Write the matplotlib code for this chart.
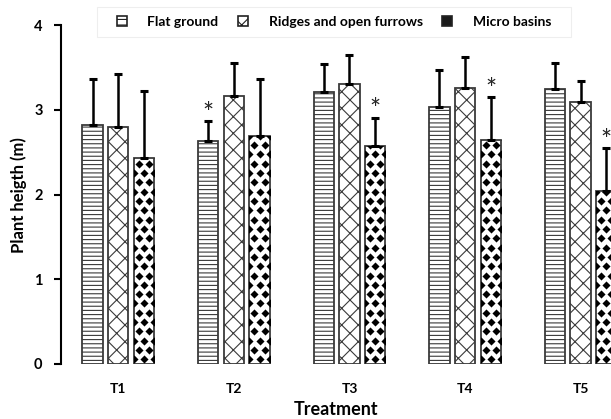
import numpy as np
import matplotlib.pyplot as plt
from matplotlib.patches import Patch, Rectangle

plt.rcParams['font.family'] = ['Lato', 'DejaVu Sans']
plt.rcParams['font.weight'] = 'bold'
plt.rcParams['hatch.linewidth'] = 0.8

treatments = ['T1', 'T2', 'T3', 'T4', 'T5']
series = ['Flat ground', 'Ridges and open furrows', 'Micro basins']
flat = [2.82, 2.63, 3.21, 3.03, 3.25]
ridges = [2.80, 3.16, 3.31, 3.26, 3.09]
micro = [2.43, 2.69, 2.58, 2.64, 2.04]
flat_sd = [0.54, 0.24, 0.33, 0.44, 0.31]
ridges_sd = [0.63, 0.39, 0.34, 0.36, 0.25]
micro_sd = [0.79, 0.68, 0.33, 0.51, 0.51]
# which series carries a significance star in each treatment (None = no star)
star = [None, 0, 2, 2, 2]

fig = plt.figure(figsize=(6.11, 4.19), dpi=100)
ax = fig.add_axes([0.0993, 0.1313, 0.9007, 0.8083])

x = np.arange(len(treatments))
offset = 0.222
width = 0.177
edge = '#3a3a3a'

values = [flat, ridges, micro]
sds = [flat_sd, ridges_sd, micro_sd]
hatches = ['----', 'xx', None]
groups = []
for k in range(3):
    bars = ax.bar(x + (k - 1) * offset, values[k], width, color='white',
                  edgecolor=edge, linewidth=1.3, hatch=hatches[k], zorder=2)
    groups.append(bars)
    ax.errorbar(x + (k - 1) * offset, values[k],
                yerr=[np.zeros(len(x)), sds[k]], fmt='none', ecolor='black',
                elinewidth=1.8, capsize=2.6, capthick=2.2, zorder=3)

# black diamond pattern for the micro basin bars, clipped to each bar
for bar in groups[2]:
    bx, bw, bh = bar.get_x(), bar.get_width(), bar.get_height()
    dx = bw / 2
    dy = 0.11
    pts = []
    for r, yy in enumerate(np.arange(dy / 2, bh + dy, dy)):
        if r % 2 == 1:
            xs = bx + np.arange(dx / 2, bw, dx)
        else:
            xs = bx + np.arange(0, bw + dx / 2, dx)
        pts += [(xx, yy) for xx in xs]
    pts = np.array(pts)
    sc = ax.scatter(pts[:, 0], pts[:, 1], marker='D', s=17, color='black',
                    linewidths=0, zorder=2.5)
    sc.set_clip_path(bar)

for i, k in enumerate(star):
    if k is None:
        continue
    top = values[k][i] + sds[k][i]
    ax.text(x[i] + (k - 1) * offset, top - 0.01, '*', ha='center', va='baseline',
            fontsize=19, fontweight='normal', color='#222222')

ax.set_xlim(-0.498, 4.262)
ax.set_ylim(0, 4)
ax.set_yticks([0, 1, 2, 3, 4])
ax.set_xticks(x)
ax.set_xticklabels(treatments, fontsize=10)
ax.tick_params(axis='x', length=0, pad=14)
ax.tick_params(axis='y', length=5, width=1.5, direction='out', labelsize=10.5, pad=8)
for s in ['top', 'right', 'bottom']:
    ax.spines[s].set_visible(False)
ax.spines['left'].set_linewidth(1.5)
ax.set_xlabel('Treatment', fontsize=13, fontweight='bold', labelpad=4)
ax.set_ylabel('Plant heigth (m)', fontsize=12, fontweight='bold', labelpad=5)

handles = [Patch(facecolor='white', edgecolor='#222222', hatch='---', linewidth=1.2),
           Patch(facecolor='white', edgecolor='#222222', hatch='xx', linewidth=1.2),
           Patch(facecolor='#1a1a1a', edgecolor='#222222', linewidth=1.2)]
leg = fig.legend(handles, series, loc='center', ncol=3,
                 bbox_to_anchor=(334 / 611, 1 - 22 / 419), fontsize=10,
                 handlelength=0.7, handleheight=0.7, handletextpad=1.5,
                 columnspacing=1.4, frameon=False)
# faint box around the legend
fig.patches.append(Rectangle((97 / 611, 1 - 37 / 419), 474 / 611, 30 / 419,
                             transform=fig.transFigure, facecolor='none',
                             edgecolor='#eeeeee', linewidth=0.8))

fig.savefig('out.png', dpi=100)
